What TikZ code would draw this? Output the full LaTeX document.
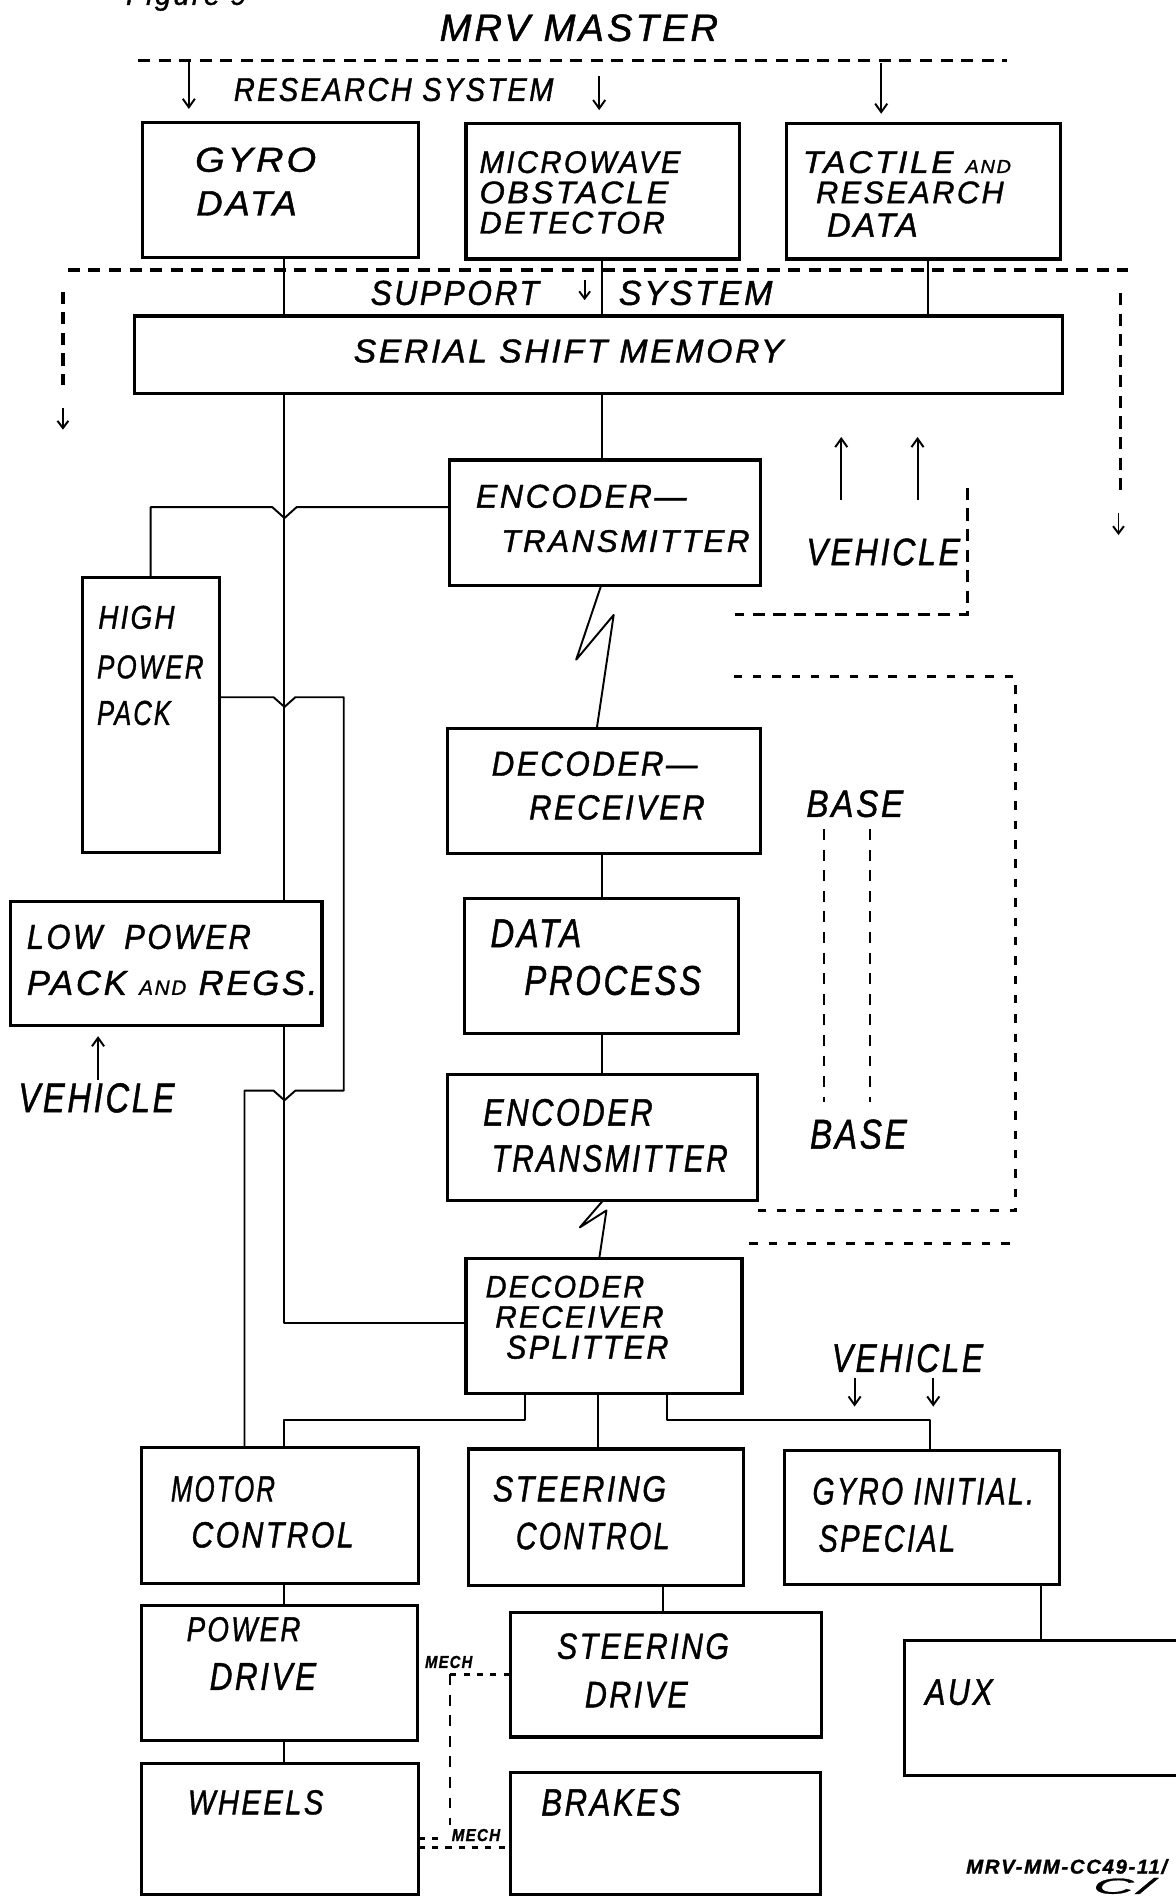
\documentclass[tikz,border=0pt]{standalone}
\usepackage{fontspec}
\usepackage{graphicx}
\usetikzlibrary{arrows.meta}
\newfontfamily\hand{Liberation Sans}[LetterSpace=8, FakeBold=1.2]
\newcommand\tx[6]{\node[txt] (#1) at (#2,#3) {\resizebox{#4pt}{#5pt}{\hand\itshape #6}};}
\newcommand\bx[5]{\node[box, minimum width={#4-#2}, minimum height={#5-#3}] (#1) at ({(#2+#4)/2},{(#3+#5)/2}) {};}
\newcommand\sm[1]{{\fontsize{6}{6}\selectfont #1}}
\begin{document}
\begin{tikzpicture}[x=1pt, y=-1pt,
  box/.style={draw, line width=2.6pt, inner sep=0pt, outer sep=0pt},
  conn/.style={line width=1.6pt, line join=round},
  arr/.style={conn, -{Straight Barb[length=7pt,width=10pt]}},
  sarr/.style={conn, -{Straight Barb[length=6pt,width=9pt]}},
  dsh/.style={line width=2.6pt, dash pattern=on 10pt off 7pt},
  dshb/.style={line width=2.6pt, dash pattern=on 7pt off 9pt},
  dshv/.style={line width=1.8pt, dash pattern=on 9pt off 8pt},
  dott/.style={line width=2.4pt, dash pattern=on 5pt off 6pt},
  txt/.style={anchor=west, inner sep=0pt}]
\fill[white] (0,0) rectangle (971,1568);
\useasboundingbox (0,0) rectangle (971,1568);

% header
\node[anchor=base west, inner sep=0pt] (fig) at (104,4) {\fontsize{24}{24}\selectfont\hand\itshape Figure 9};
\tx{tmrv}{363}{23}{230}{22}{MRV MASTER}
\tx{tres}{193}{74}{264}{19}{RESEARCH SYSTEM}

% boxes
\bx{gyro}{118}{101}{346}{213}
\bx{micro}{385}{102}{611}{214}
\bx{tactile}{650}{102}{876}{214}
\bx{mem}{111}{261}{878}{325}
\bx{enc1}{371}{380}{628}{484}
\bx{hpp}{68}{477}{181}{704}
\bx{dec1}{370}{602}{628}{705}
\bx{lpp}{9}{745}{266}{847}
\bx{data}{384}{742}{610}{854}
\bx{enc2}{370}{888}{626}{992}
\bx{split}{385}{1040}{613}{1151}
\bx{motor}{117}{1196}{346}{1308}
\bx{steerc}{387}{1197}{614}{1310}
\bx{gyroi}{648}{1198}{875}{1309}
\bx{power}{117}{1326}{345}{1438}
\bx{steerd}{422}{1332}{679}{1435}
\bx{aux}{747}{1355}{995}{1467}
\bx{wheels}{117}{1457}{346}{1565}
\bx{brakes}{422}{1464}{678}{1565}

% box texts
\tx{t1}{161}{132}{100}{20}{GYRO}
\tx{t2}{162}{168}{83}{20}{DATA}
\tx{t3}{396}{134}{166}{18}{MICROWAVE}
\tx{t4}{396}{159}{156}{18}{OBSTACLE}
\tx{t5}{396}{184}{153}{18}{DETECTOR}
\tx{t6}{663}{134}{172}{18}{TACTILE \sm{AND}}
\tx{t7}{674}{159}{155}{18}{RESEARCH}
\tx{t8}{683}{186}{75}{19}{DATA}
\tx{t9}{306}{242}{139}{20}{SUPPORT}
\tx{t10}{511}{242}{127}{20}{SYSTEM}
\tx{t11}{292}{290}{355}{19}{SERIAL SHIFT MEMORY}
\tx{t12}{393}{410}{174}{19}{ENCODER—}
\tx{t13}{414}{447}{205}{18}{TRANSMITTER}
\tx{t14}{666}{456}{127}{22}{VEHICLE}
\tx{t15}{81}{510}{63}{19}{HIGH}
\tx{t16}{80}{551}{88}{19}{POWER}
\tx{t17}{80}{589}{61}{20}{PACK}
\tx{t18}{406}{631}{170}{20}{DECODER—}
\tx{t19}{437}{667}{145}{20}{RECEIVER}
\tx{t20}{666}{664}{80}{22}{BASE}
\tx{t21}{22}{774}{185}{20}{LOW\ \ POWER}
\tx{t22}{22}{812}{240}{20}{PACK \sm{AND} REGS.}
\tx{t23}{15}{907}{129}{24}{VEHICLE}
\tx{t24}{405}{771}{75}{23}{DATA}
\tx{t25}{433}{810}{146}{24}{PROCESS}
\tx{t26}{399}{919}{140}{22}{ENCODER}
\tx{t27}{406}{957}{195}{22}{TRANSMITTER}
\tx{t28}{669}{937}{80}{24}{BASE}
\tx{t29}{401}{1063}{131}{18}{DECODER}
\tx{t30}{409}{1088}{139}{18}{RECEIVER}
\tx{t31}{418}{1113}{134}{19}{SPLITTER}
\tx{t32}{687}{1122}{125}{23}{VEHICLE}
\tx{t33}{141}{1230}{86}{21}{MOTOR}
\tx{t34}{158}{1268}{134}{21}{CONTROL}
\tx{t35}{407}{1230}{143}{21}{STEERING}
\tx{t36}{426}{1269}{127}{22}{CONTROL}
\tx{t37}{671}{1232}{183}{22}{GYRO INITIAL.}
\tx{t38}{676}{1271}{113}{22}{SPECIAL}
\tx{t39}{154}{1346}{94}{20}{POWER}
\tx{t40}{173}{1385}{88}{22}{DRIVE}
\tx{t41}{460}{1360}{142}{21}{STEERING}
\tx{t42}{483}{1400}{85}{21}{DRIVE}
\tx{t43}{764}{1398}{56}{21}{AUX}
\tx{t44}{155}{1489}{112}{20}{WHEELS}
\tx{t45}{447}{1489}{115}{22}{BRAKES}
\tx{t46}{351}{1373}{39}{10}{\bfseries MECH}
\tx{t47}{373}{1516}{40}{10}{\bfseries MECH}
\tx{t48}{798}{1542}{166}{12}{\bfseries MRV-MM-CC49-11/}
\tx{t49}{903}{1558}{50}{13}{C/}

% lane coordinates
\coordinate (LA) at (235,0);
\coordinate (LB) at (284,0);
\coordinate (LC) at (202,0);
\coordinate (LM) at (497,0);
\coordinate (LT) at (767,0);
\coordinate (S1) at (434,0);
\coordinate (S2) at (494,0);
\coordinate (S3) at (551,0);
\coordinate (S4) at (768,0);
\coordinate (S5) at (548,0);
\coordinate (S6) at (860,0);
\coordinate (H1) at (0,419);
\coordinate (H2) at (0,576);
\coordinate (H3) at (0,901);
\coordinate (H4) at (0,1093);
\coordinate (H5) at (0,1173);

% connectors
\draw[conn] (gyro.south -| LA) -- (mem.north -| LA);
\draw[conn] (micro.south -| LM) -- (mem.north -| LM);
\draw[conn] (tactile.south -| LT) -- (mem.north -| LT);
\draw[conn] (mem.south -| LM) -- (enc1.north -| LM);
\draw[conn] (mem.south -| LA) -- (lpp.north -| LA);
\draw[conn] (lpp.south -| LA) -- (LA |- H4) -- (split.west |- H4);
\draw[conn] (enc1.west |- H1) -- (245,419) -- (235,428) -- (225,419) -- (hpp.north |- H1) -- (hpp.north);
\draw[conn] (hpp.east |- H2) -- (226,576) -- (235,584) -- (244,576) -- (LB |- H2) -- (LB |- H3)
  -- (244,901) -- (235,909) -- (226,901) -- (LC |- H3) -- (motor.north -| LC);
\draw[conn] (dec1.south -| LM) -- (data.north -| LM);
\draw[conn] (data.south -| LM) -- (enc2.north -| LM);
\draw[conn] (split.south -| S1) -- (S1 |- H5) -- (LA |- H5) -- (motor.north -| LA);
\draw[conn] (split.south -| S2) -- (steerc.north -| S2);
\draw[conn] (split.south -| S3) -- (S3 |- H5) -- (S4 |- H5) -- (gyroi.north -| S4);
\draw[conn] (motor.south -| LA) -- (power.north -| LA);
\draw[conn] (power.south -| LA) -- (wheels.north -| LA);
\draw[conn] (steerc.south -| S5) -- (steerd.north -| S5);
\draw[conn] (gyroi.south -| S6) -- (aux.north -| S6);
% radio links
\draw[conn] ([xshift=-3pt]enc1.south) -- (476,545) -- (507,508) -- ([xshift=-6pt]dec1.north);
\draw[conn] (enc2.south) -- (479,1014) -- (501,1000) -- ([xshift=-4pt]split.north);

% system boundaries
\draw[dsh] (114,50) -- (832,50);
\draw[arr] (156,51) -- (156,90);
\draw[arr] (495,63) -- (495,91);
\draw[arr] (728,52) -- (728,94);
\draw[dsh] (56,223) -- (932,223);
\draw[dsh] (52,241) -- (52,318);
\draw[sarr] (52,337) -- (52,355);
\draw[dsh] (926,242) -- (926,410);
\draw[sarr] (924,424) -- (924,442);
\draw[sarr] (483,231) -- (483,248);
\draw[arr] (695,413) -- (695,361);
\draw[arr] (758,413) -- (758,361);
\draw[dsh] (799,403) -- (799,508) -- (607,508);
\draw[dshb] (606,559) -- (839,559) -- (839,1000) -- (619,1000);
\draw[dshb] (619,1027) -- (839,1027);
\draw[dshv] (681,685) -- (681,910);
\draw[dshv] (719,685) -- (719,910);
\draw[arr] (81,892) -- (81,856);
\draw[arr] (706,1138) -- (706,1162);
\draw[arr] (771,1138) -- (771,1162);

% mechanical links
\coordinate (M1) at (372,1383);
\coordinate (M2) at (372,1526);
\coordinate (M3) at (364,1519);
\draw[dott] (M1) -- (steerd.west |- M1);
\draw[dshv] (M1) -- (372,1508);
\draw[dott] (wheels.east |- M2) -- (brakes.west |- M2);
\draw[dott] (wheels.east |- M3) -- (M3);
\end{tikzpicture}
\end{document}
